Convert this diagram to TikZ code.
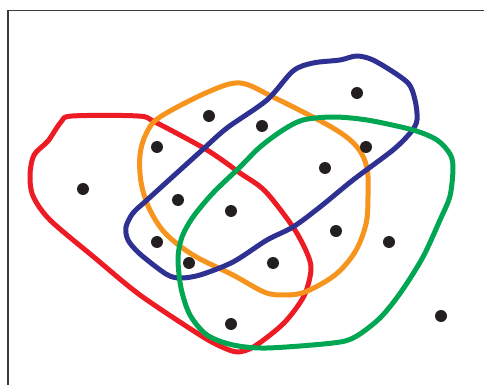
\documentclass[tikz,border=0pt]{standalone}
\usepackage{tikz}
\usetikzlibrary{calc}

\begin{document}
\begin{tikzpicture}[x=0.02cm, y=-0.02cm,
  laco/.style={line width=0.1cm, line cap=round, line join=round},
  ponto/.style={fill=pontocor}]
% --- CORES HEX DOS CONJUNTOS ---
\definecolor{vermelho}{HTML}{ED1C24}
\definecolor{laranja}{HTML}{F7941D}
\definecolor{azul}{HTML}{2E3192}
\definecolor{verde}{HTML}{00A651}
\definecolor{pontocor}{HTML}{231F20}
\definecolor{moldura}{HTML}{3A3A3A}

\useasboundingbox (0,0) rectangle (484,385);

% LAYER 1: Moldura
\draw[moldura, line width=1.1pt] (8,385) -- (8,10.5) -- (484,10.5);

% LAYER 2: Conjunto vermelho
\draw[laco, color=vermelho] plot[smooth cycle, tension=0.5] coordinates {
  (61,122) (72,116) (138,116) (155,122) (207,150) (240,173) (265,191)
  (293,227) (307,253) (311,270) (304,296) (284,323) (255,346) (238,352)
  (222,347) (200,335) (140,295) (95,258) (50,220) (33,196) (30,175)
  (34,155) (48,141)};

% LAYER 3: Conjunto laranja
\draw[laco, color=laranja] plot[smooth cycle, tension=0.55] coordinates {
  (240,83) (273,97) (333,128) (357,147) (367,168) (368,197) (366,224)
  (355,252) (335,275) (305,292) (283,295) (264,292) (233,275) (193,255)
  (165,233) (149,208) (141,182) (140,155) (146,134) (160,117) (208,92)};

% LAYER 4: Conjunto azul
\draw[laco, color=azul] plot[smooth cycle, tension=0.5] coordinates {
  (357,56) (375,61) (407,82) (415,100) (417,120) (411,132) (393,150)
  (353,180) (320,207) (293,227) (267,240) (233,262) (200,275) (180,278)
  (166,274) (140,254) (128,240) (126,227) (133,213) (147,200) (200,152)
  (227,128) (267,100) (293,71) (313,63) (340,60)};

% LAYER 5: Conjunto verde
\draw[laco, color=verde] plot[smooth cycle, tension=0.5] coordinates {
  (333,117) (367,120) (413,130) (437,140) (450,154) (453,168) (450,196)
  (440,220) (423,257) (401,292) (380,318) (355,337) (333,343) (267,348)
  (233,345) (207,335) (190,315) (181,288) (178,258) (182,237) (193,217)
  (213,193) (240,167) (260,147) (283,130) (303,120)};

% LAYER 6: Elementos
\foreach \px/\py in {83/189, 157/147, 209/116, 262/126, 357/93, 366/147,
  325/168, 178/200, 231/211, 157/242, 189/263, 273/263, 336/231,
  389/242, 231/324, 441/316}
  \fill[ponto] (\px,\py) circle (6);
\end{tikzpicture}
\end{document}
